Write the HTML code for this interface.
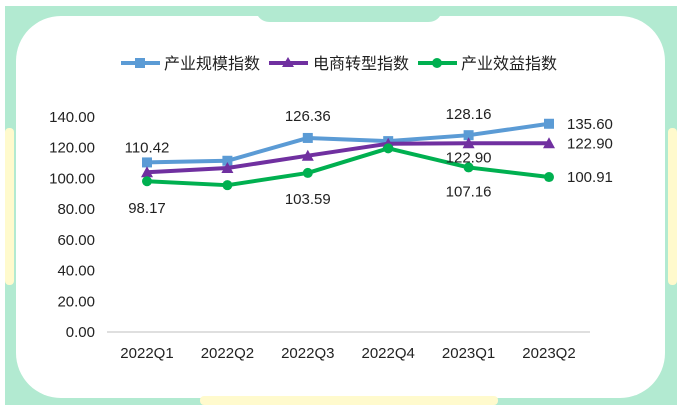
<!DOCTYPE html>
<html><head><meta charset="utf-8"><style>
body{margin:0;width:681px;height:412px;background:#fff;overflow:hidden;font-family:"Liberation Sans","Noto Sans CJK SC",sans-serif;}
svg text{font-family:"Liberation Sans","Noto Sans CJK SC",sans-serif;fill:#222;}
</style></head><body>
<svg width="681" height="412">
<rect x="5" y="6" width="672" height="399" fill="#b2ead1"/>
<rect x="16" y="16" width="649" height="382" rx="45" fill="#fff"/>
<path d="M258 16 H440 Q436 22 428 22 H270 Q262 22 258 16 Z" fill="#b2ead1"/>
<rect x="5" y="128" width="9" height="157" rx="4" fill="#fffacd"/>
<rect x="668" y="128" width="9" height="157" rx="4" fill="#fffacd"/>
<rect x="200" y="396" width="298" height="9" rx="4" fill="#fffacd"/>
<g id="legend">
 <g><line x1="121" y1="63" x2="160" y2="63" stroke="#5b9bd5" stroke-width="4"/><rect x="135" y="58" width="10" height="10" fill="#5b9bd5"/><text x="164" y="69" font-size="16">产业规模指数</text></g>
 <g><line x1="269" y1="63" x2="308" y2="63" stroke="#7030a0" stroke-width="4"/><path d="M288 57 L294 67 L282 67Z" fill="#7030a0"/><text x="313" y="69" font-size="16">电商转型指数</text></g>
 <g><line x1="418" y1="63" x2="457" y2="63" stroke="#00b050" stroke-width="4"/><circle cx="437" cy="63" r="5" fill="#00b050"/><text x="461" y="69" font-size="16">产业效益指数</text></g>
</g>
<g id="axes"></g><g id="plot"></g>
</svg>
<script>
const categories=["2022Q1","2022Q2","2022Q3","2022Q4","2023Q1","2023Q2"];
const scaleIdx=[110.42,111.5,126.36,124.3,128.16,135.60];
const transIdx=[104.0,106.8,114.8,122.6,122.90,122.90];
const benefitIdx=[98.17,95.6,103.59,119.6,107.16,100.91];
const yTicks=[0,20,40,60,80,100,120,140];
const NS="http://www.w3.org/2000/svg";
const X=i=>147+i*80.4, Y=v=>332-v*215/140;
const axes=document.getElementById('axes'),plot=document.getElementById('plot');
function mk(p,tag,a,txt){const e=document.createElementNS(NS,tag);for(const k in a)e.setAttribute(k,a[k]);if(txt!=null)e.textContent=txt;p.appendChild(e);return e;}
let l=mk(axes,'line',{x1:107,x2:590,y1:Y(0),y2:Y(0),stroke:'#bfbfbf','stroke-width':1});


yTicks.forEach(v=>{const t=mk(axes,'text',{x:95,y:Y(v)+5,'text-anchor':'end','font-size':15},v.toFixed(2));

});
categories.forEach((c,i)=>{const t=mk(axes,'text',{x:X(i),y:358,'text-anchor':'middle','font-size':15},c);

});
function series(vals,color,name,marker){
 const pl=mk(plot,'polyline',{points:vals.map((v,i)=>X(i)+','+Y(v)).join(' '),fill:'none',stroke:color,'stroke-width':4,'stroke-linejoin':'round'});
 
 
 vals.forEach((v,i)=>{const x=X(i),y=Y(v);let m;
  if(marker==='sq')m=mk(plot,'rect',{x:x-5,y:y-5,width:10,height:10,fill:color});
  else if(marker==='tri')m=mk(plot,'path',{d:`M${x} ${y-6} L${x+6} ${y+5} L${x-6} ${y+5}Z`,fill:color});
  else m=mk(plot,'circle',{cx:x,cy:y,r:5,fill:color});
  
  });
}
series(scaleIdx,'#5b9bd5','scale-index','sq');
series(transIdx,'#7030a0','transform-index','tri');
series(benefitIdx,'#00b050','benefit-index','dot');
function lab(i,vals,dy,dx,anchor){const t=mk(plot,'text',{x:X(i)+(dx||0),y:Y(vals[i])+dy,'text-anchor':anchor||'middle','font-size':15},vals[i].toFixed(2));

}
lab(0,scaleIdx,-10);lab(2,scaleIdx,-17);lab(4,scaleIdx,-16);lab(5,scaleIdx,5,18,'start');
lab(4,transIdx,19);lab(5,transIdx,5,18,'start');
lab(0,benefitIdx,32);lab(2,benefitIdx,31);lab(4,benefitIdx,29);lab(5,benefitIdx,5,18,'start');
</script>
</body></html>
